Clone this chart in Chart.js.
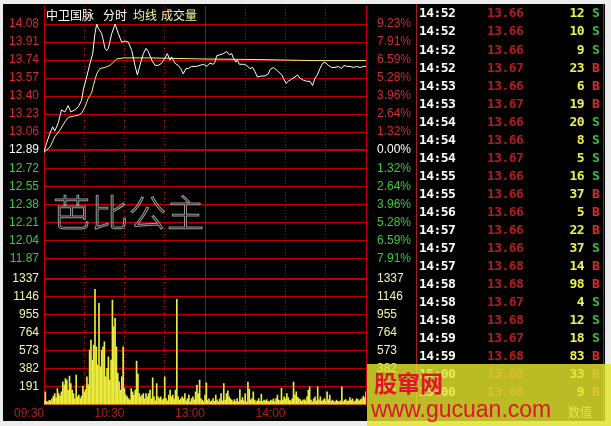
<!DOCTYPE html>
<html><head><meta charset="utf-8">
<script src="https://cdn.jsdelivr.net/npm/chart.js@4.4.0/dist/chart.umd.min.js"></script>
<style>
html,body{margin:0;padding:0;width:611px;height:426px;overflow:hidden;background:#ececec;}
#panel{position:absolute;left:3px;top:4px;width:602px;height:417px;background:#000;}
canvas{position:absolute;left:0;top:0;}
</style></head><body>
<div id="panel"></div>
<canvas id="pc" width="416" height="426"></canvas>
<canvas id="vc" width="416" height="426"></canvas>
<div id="layer"></div>
<script>
// ---- data ----
const stockName = '中卫国脉';
const titleParts = ['分时', '均线', '成交量'];
const preClose = 12.89;
const priceTicks = [14.08,13.91,13.74,13.57,13.40,13.23,13.06,12.89,12.72,12.55,12.38,12.21,12.04,11.87];
const pctLabels = ['9.23%','7.91%','6.59%','5.28%','3.96%','2.64%','1.32%','0.00%','1.32%','2.64%','3.96%','5.28%','6.59%','7.91%'];
const volTicks = [1337,1146,955,764,573,382,191];
const timeLabelMinutes = [0,60,120,180];
const timeLabelTexts = ['09:30','10:30','13:00','14:00'];
const dottedMinutes = [30,60,90,150,180,210];
const middayMinute = [120];

const priceMinutes = [0,2,4.5,6.5,8,10.7,13,15.5,18,20,23,25.6,28,29.3,31.8,34.3,36.3,38,39.3,40.5,
 43,45.5,46.7,48,50.5,53,55.4,57.9,60.4,62.8,65.4,67.8,69.6,71.5,74,76,77.7,80.3,82.7,85.2,
 87.7,90.2,91.9,93.9,95,97.6,100,101.9,103.8,105.8,107.6,110,113.8,116.3,118.7,121.3,123.7,126.2,127.4,128.7,
 131.2,133.6,136.2,138.1,139.9,141.1,143.1,144,145.6,148.5,151,153.5,155.5,157.3,159,162.3,164.7,167.2,168.5,171,
 173,174.7,177.2,180.4,182.1,184.6,187.1,188.8,190.8,193.3,195.8,198.3,200.2,202,203.7,205.7,207.7,209.4,211.9,214.4,
 216.9,219.4,221.9,223.6,225.6,228.1,230.6,233.1,235.6,238.1,240];
const priceValues = [12.87,12.96,13.05,13.11,13.07,13.15,13.27,13.25,13.31,13.25,13.27,13.30,13.36,13.46,13.58,13.71,13.80,13.99,14.08,14.04,
 13.99,13.85,13.83,13.85,13.99,14.08,13.99,13.91,13.92,13.91,13.83,13.69,13.60,13.69,13.80,13.85,13.82,13.74,13.69,13.69,
 13.71,13.76,13.80,13.74,13.77,13.71,13.69,13.66,13.61,13.66,13.66,13.68,13.68,13.69,13.70,13.68,13.71,13.70,13.72,13.78,
 13.79,13.80,13.82,13.79,13.80,13.76,13.72,13.74,13.70,13.70,13.69,13.66,13.67,13.63,13.58,13.59,13.59,13.61,13.65,13.67,
 13.65,13.63,13.60,13.52,13.54,13.56,13.58,13.60,13.57,13.55,13.54,13.54,13.50,13.57,13.60,13.66,13.71,13.72,13.69,13.67,
 13.67,13.68,13.66,13.69,13.68,13.68,13.67,13.68,13.67,13.68,13.68];

const avgMinutes = [0,4.5,8.2,11.9,15.7,18.1,21.9,25.6,28.1,30.6,33,35.5,36.8,39.3,41.7,45.5,49.2,51.7,54.2,59.1,80,120,160,200,240];
const avgValues = [12.87,12.92,13.02,13.08,13.16,13.20,13.21,13.22,13.24,13.30,13.38,13.43,13.50,13.61,13.66,13.67,13.69,13.72,13.75,13.76,13.76,13.75,13.745,13.735,13.735];

const volumes = [
 40,135,30,28,45,39,60,89,117,70,
 170,117,90,135,242,206,277,260,150,302,
 224,153,117,60,313,82,100,64,90,196,
 135,160,295,210,580,686,473,633,1227,615,
 420,1077,402,580,615,668,295,384,508,260,
 473,1113,829,917,615,331,242,153,295,615,
 170,100,82,64,46,170,135,100,153,462,
 324,117,82,100,117,60,117,82,117,153,
 60,284,82,40,224,82,64,82,46,60,
 295,64,40,100,153,82,100,60,153,1120,
 82,46,60,82,64,117,40,64,100,28,
 64,82,50,135,206,117,260,64,46,30,
 100,231,46,60,28,40,64,35,100,50,
 28,60,117,40,224,46,117,146,82,60,
 46,28,53,35,64,28,160,46,75,40,
 117,28,238,164,50,64,135,46,28,40,
 64,35,110,30,46,40,53,35,28,46,
 39,60,30,64,100,46,40,171,46,82,
 60,117,75,46,40,60,238,100,135,80,
 64,53,35,46,53,40,82,153,188,46,
 28,60,82,40,188,46,82,35,46,64,
 40,135,53,100,35,46,30,28,46,35,
 28,40,188,28,46,53,35,40,75,46,
 60,28,40,64,53,40,53,64,89,70,135];

const tickTimes  = ['14:52','14:52','14:52','14:52','14:53','14:53','14:54','14:54','14:54','14:55','14:55','14:56','14:57','14:57','14:57','14:58','14:58','14:58','14:59','14:59','15:00','15:00'];
const tickPrices = ['13.66','13.66','13.66','13.67','13.66','13.67','13.66','13.66','13.67','13.66','13.66','13.66','13.66','13.66','13.68','13.68','13.67','13.68','13.67','13.68','13.68','13.68'];
const tickVols   = [12,10,9,23,6,19,20,8,5,16,37,5,22,37,14,98,4,12,18,83,33,9];
const tickSides  = ['S','S','S','B','B','B','S','S','S','S','B','B','B','S','B','B','S','S','S','B','B','B'];

// ---- styles ----
const RED = '#c00000';
const UP = '#d42a2a', DOWN = '#3cc83c', FLAT = '#ffffff';
const FONT = {family: '"Liberation Sans", Arial, sans-serif', size: 12};
const asc = a => a.slice().sort((p, q) => p - q);
const noPad = s => { s.paddingTop = 0; s.paddingBottom = 0; s.paddingLeft = 0; s.paddingRight = 0; };
const tickColor = c => { const v = Math.round(c.tick.value * 100), b = Math.round(preClose * 100); return v > b ? UP : (v < b ? DOWN : FLAT); };

function xDotted(showLabels) {
  return {
    type: 'linear', min: 0, max: 240, position: 'bottom', offset: false,
    afterBuildTicks: s => { s.ticks = asc(showLabels ? dottedMinutes.concat([0, 120]) : dottedMinutes).map(v => ({value: v})); },
    afterFit: s => { s.height = showLabels ? 18 : 0; noPad(s); },
    ticks: showLabels ? {
      display: true, autoSkip: false, maxRotation: 0, align: 'end', padding: 2, color: '#b01c1c', font: FONT,
      callback: v => { const i = timeLabelMinutes.indexOf(v); return i >= 0 ? timeLabelTexts[i] : ''; }
    } : {display: false},
    grid: {offset: false, drawTicks: false, color: c => (c.tick && (c.tick.value === 0 || c.tick.value === 120)) ? 'rgba(0,0,0,0)' : RED, lineWidth: 1},
    border: {display: showLabels, color: RED, width: 1, dash: [1, 2]}
  };
}
function xSolid() {
  return {
    type: 'linear', min: 0, max: 240, position: 'bottom', offset: false,
    afterBuildTicks: s => { s.ticks = middayMinute.map(v => ({value: v})); },
    afterFit: s => { s.height = 0; noPad(s); },
    ticks: {display: false}, grid: {offset: false, drawTicks: false, color: RED, lineWidth: 1}, border: {display: false}
  };
}

new Chart(document.getElementById('pc'), {
  type: 'line',
  data: {datasets: [
    {data: priceMinutes.map((m, i) => ({x: m, y: priceValues[i]})), borderColor: '#ffffff', borderWidth: 1, pointRadius: 0, tension: 0, yAxisID: 'y', xAxisID: 'x'},
    {data: avgMinutes.map((m, i) => ({x: m, y: avgValues[i]})), borderColor: '#f6f07c', borderWidth: 1, pointRadius: 0, tension: 0, yAxisID: 'y', xAxisID: 'x'}
  ]},
  options: {
    responsive: false, animation: false, events: [],
    layout: {padding: {top: 6, bottom: 147, left: 0, right: 0}},
    plugins: {legend: {display: false}, tooltip: {enabled: false}},
    scales: {
      x: xDotted(false),
      xm: xSolid(),
      y: {
        position: 'left', min: 11.6748, max: 14.2498,
        afterBuildTicks: s => { s.ticks = asc(priceTicks).map(v => ({value: v})); },
        afterFit: s => { s.width = 44; noPad(s); },
        ticks: {font: FONT, padding: 5, color: tickColor, callback: v => v.toFixed(2)},
        grid: {drawTicks: false, color: RED, lineWidth: c => (c.tick && Math.round(c.tick.value * 100) === Math.round(preClose * 100)) ? 2 : 1},
        border: {display: true, color: RED, width: 1}
      },
      yr: {
        position: 'right', min: 11.6748, max: 14.2498,
        afterBuildTicks: s => { s.ticks = asc(priceTicks).map(v => ({value: v})); },
        afterFit: s => { s.width = 50; noPad(s); },
        ticks: {font: FONT, padding: 3, color: tickColor, callback: v => pctLabels[priceTicks.indexOf(v)]},
        grid: {display: false},
        border: {display: true, color: RED, width: 1}
      }
    }
  }
});

new Chart(document.getElementById('vc'), {
  type: 'bar',
  data: {datasets: [
    {data: volumes.map((v, m) => ({x: m, y: v})), backgroundColor: '#ecec3c', borderWidth: 0, barThickness: 1, yAxisID: 'y', xAxisID: 'x'}
  ]},
  options: {
    responsive: false, animation: false, events: [],
    layout: {padding: {top: 279, bottom: 3.5, left: 0, right: 0}},
    plugins: {legend: {display: false}, tooltip: {enabled: false}},
    scales: {
      x: xDotted(true),
      xm: xSolid(),
      y: {
        position: 'left', min: 0, max: 1337,
        afterBuildTicks: s => { s.ticks = asc(volTicks).map(v => ({value: v})); },
        afterFit: s => { s.width = 44; noPad(s); },
        ticks: {font: FONT, padding: 5, color: '#f6f6a8', callback: v => String(v)},
        grid: {drawTicks: false, color: RED, lineWidth: c => (c.tick && c.tick.value === volTicks[0]) ? 2 : 1},
        border: {display: true, color: RED, width: 1}
      },
      yr: {
        position: 'right', min: 0, max: 1337,
        afterBuildTicks: s => { s.ticks = asc(volTicks).map(v => ({value: v})); },
        afterFit: s => { s.width = 50; noPad(s); },
        ticks: {font: FONT, padding: 3, color: '#f6f6a8', callback: v => String(v)},
        grid: {display: false},
        border: {display: true, color: RED, width: 1}
      }
    }
  }
});

// ---- text layer ----
const layer = document.getElementById('layer');
function addDiv(css, text) {
  const d = document.createElement('div');
  d.style.cssText = 'position:absolute;white-space:nowrap;' + css;
  if (text !== undefined) d.textContent = text;
  layer.appendChild(d);
  return d;
}
const CJK = '"Noto Sans CJK SC", sans-serif';
// title
addDiv('left:46px;top:6px;font:12px/18px ' + CJK + ';color:#fff;', stockName);
addDiv('left:103px;top:6px;font:12px/18px ' + CJK + ';color:#fff;', titleParts[0]);
addDiv('left:133px;top:6px;font:12px/18px ' + CJK + ';color:#f8f8a0;', titleParts[1]);
addDiv('left:161px;top:6px;font:12px/18px ' + CJK + ';color:#f8f8a0;', titleParts[2]);
// watermark
addDiv('left:53px;top:190px;font:300 37px/42px ' + CJK + ';color:transparent;-webkit-text-stroke:1px #9a9a9a;letter-spacing:1px;', '芭比公主');
// separators
addDiv('left:416px;top:4px;width:1px;height:417px;background:#a01c2c;');
addDiv('left:603px;top:4px;width:1px;height:417px;background:#6a2a78;');
// trade table
const MONO = '"DejaVu Sans Mono", monospace';
tickTimes.forEach((t, i) => {
  const top = 13.4 + i * 18.05 - 8;
  addDiv('left:419px;top:' + top + 'px;height:16px;font:bold 13px/16px ' + MONO + ';letter-spacing:-0.6px;color:#fff;', t);
  addDiv('left:487px;top:' + top + 'px;height:16px;font:bold 13px/16px ' + MONO + ';letter-spacing:-0.6px;color:#b41c1c;', tickPrices[i]);
  addDiv('right:27px;top:' + top + 'px;height:16px;text-align:right;font:bold 13px/16px ' + MONO + ';letter-spacing:-0.6px;color:#f0f050;', String(tickVols[i]));
  addDiv('left:592px;top:' + top + 'px;height:16px;font:bold 13px/16px ' + MONO + ';color:' + (tickSides[i] === 'B' ? '#e02828' : '#34c034') + ';', tickSides[i]);
});
addDiv('left:568px;top:404px;font:12px/16px ' + CJK + ';color:#e0e0e0;', '数值');
// site watermark box
addDiv('left:367px;top:364px;width:244px;height:62px;background:rgba(228,228,46,0.82);');
addDiv('left:374px;top:369px;font:bold 23px/27px ' + CJK + ';color:#e0142a;', '股窜网');
addDiv('left:371px;top:396px;font:23px/26px "Liberation Sans", Arial, sans-serif;color:#e0142a;', 'www.gucuan.com');
</script>
</body></html>
